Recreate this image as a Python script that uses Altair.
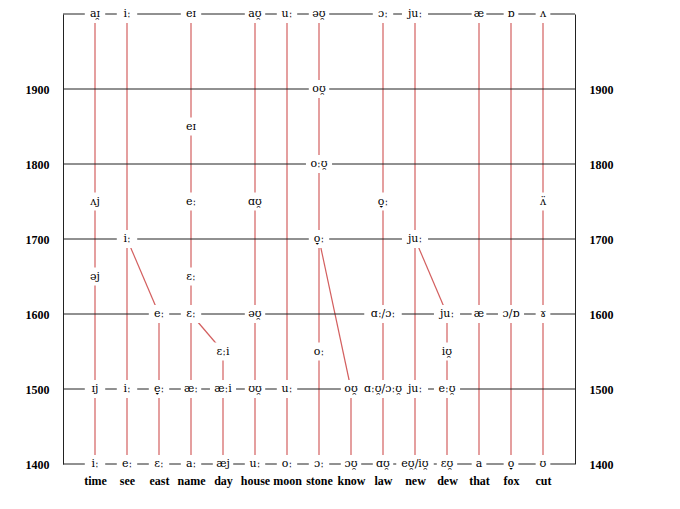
import unicodedata
import altair as alt
import pandas as pd

# words along the bottom, one column each
words = ["time", "see", "east", "name", "day", "house", "moon", "stone",
         "know", "law", "new", "dew", "that", "fox", "cut"]
# year where each column's red line stops (all start at 1400)
col_end = [2000, 2000, 1600, 2000, 1550, 2000, 2000, 2000,
           1500, 2000, 2000, 1600, 2000, 2000, 2000]

# horizontal timeline rows
row_years = [1400, 1500, 1600, 1700, 1800, 1900, 2000]
axis_years = [1400, 1500, 1600, 1700, 1800, 1900]

# pronunciations: word, year, IPA
lab_word = (["time", "see", "east", "name", "day", "house", "moon", "stone",
             "know", "law", "new", "dew", "that", "fox", "cut"]
            + ["time", "see", "east", "name", "day", "house", "moon",
               "know", "law", "new", "dew"]
            + ["day", "stone", "dew"]
            + ["east", "name", "house", "law", "dew", "that", "fox", "cut"]
            + ["time", "name"]
            + ["see", "stone", "new"]
            + ["time", "name", "house", "law", "cut"]
            + ["stone", "name", "stone"]
            + ["time", "see", "name", "house", "moon", "stone", "law",
               "new", "that", "fox", "cut"])
lab_year = ([1400] * 15 + [1500] * 11 + [1550] * 3 + [1600] * 8
            + [1650] * 2 + [1700] * 3 + [1750] * 5 + [1800, 1850, 1900]
            + [2000] * 11)
lab_ipa = (["iː", "eː", "ɛː", "aː", "æj", "uː", "oː", "ɔː",
            "ɔʊ̯", "ɑʊ̯", "eʊ̯/iʊ̯", "ɛʊ̯", "a", "o̞", "ʊ"]
           + ["ɪj", "iː", "e̞ː", "æː", "æːi", "ʊʊ̯", "uː",
              "oʊ̯", "ɑːʊ̯/ɔːʊ̯", "juː", "eːʊ̯"]
           + ["ɛːi", "oː", "iʊ̯"]
           + ["eː", "ɛː", "əʊ̯", "ɑː/ɔː", "juː", "æ", "ɔ/ɒ", "ɤ"]
           + ["əj", "ɛː"]
           + ["iː", "o̞ː", "juː"]
           + ["ʌj", "eː", "ɑʊ̯", "o̞ː", "ʌ̈"]
           + ["oːʊ̯", "eɪ", "oʊ̯"]
           + ["aɪ̯", "iː", "eɪ", "aʊ̯", "uː", "əʊ̯", "ɔː",
              "juː", "æ", "ɒ", "ʌ"])

# merging paths: from (word, year) to (word, year)
diag_from_word = ["see", "name", "stone", "new"]
diag_from_year = [1700, 1600, 1700, 1700]
diag_to_word = ["east", "day", "know", "dew"]
diag_to_year = [1600, 1550, 1500, 1600]

RED = "#d35f5f"
pos = {w: i + 1 for i, w in enumerate(words)}

cols = pd.DataFrame({"pos": [pos[w] for w in words],
                     "y0": [1400] * len(words), "y1": col_end})
diags = pd.DataFrame({"x0": [pos[w] for w in diag_from_word], "y0": diag_from_year,
                      "x1": [pos[w] for w in diag_to_word], "y1": diag_to_year})
rows = pd.DataFrame({"year": row_years, "a": 0, "b": 16})


def visible(s):
    return sum(1 for c in s if not unicodedata.combining(c))


labels = pd.DataFrame({"pos": [pos[w] for w in lab_word], "year": lab_year, "ipa": lab_ipa})
half = labels["ipa"].map(lambda s: (visible(s) * 5.7 / 2 + 4.5) / 32)
labels["xa"] = labels["pos"] - half
labels["xb"] = labels["pos"] + half
labels["ya"] = labels["year"] - 12
labels["yb"] = labels["year"] + 12

xs = alt.Scale(domain=[0, 16], nice=False, zero=False)
ys = alt.Scale(domain=[1400, 2000], nice=False, zero=False)

word_expr = "[" + ",".join("'%s'" % w for w in words) + "][datum.value - 1]"
x_axis = alt.Axis(values=list(range(1, 16)), labelExpr=word_expr, domain=False,
                  ticks=False, grid=False, labelFont="Liberation Serif",
                  labelFontWeight="bold", labelFontSize=12, labelColor="black",
                  labelPadding=11, title="")


def year_axis(side):
    return alt.Axis(orient=side, values=axis_years, format="d", grid=False, ticks=False,
                    labelFont="Liberation Serif", labelFontWeight="bold",
                    labelFontSize=12, labelColor="black", labelPadding=14,
                    domainColor="#222", title="")


red = alt.Chart(cols).mark_rule(color=RED, strokeWidth=1.2).encode(
    x=alt.X("pos:Q", scale=xs, axis=x_axis),
    y=alt.Y("y0:Q", scale=ys, axis=None),
    y2="y1:Q",
)

diag = alt.Chart(diags).mark_rule(color=RED, strokeWidth=1.2).encode(
    x=alt.X("x0:Q", scale=xs, axis=None), x2="x1:Q",
    y=alt.Y("y0:Q", scale=ys, axis=None), y2="y1:Q",
)

hlines = alt.Chart(rows).mark_rule(color="#222", strokeWidth=1).encode(
    x=alt.X("a:Q", scale=xs, axis=None), x2="b:Q",
    y=alt.Y("year:Q", scale=ys, axis=year_axis("left")),
)

boxes = alt.Chart(labels).mark_rect(fill="white", strokeWidth=0).encode(
    x=alt.X("xa:Q", scale=xs, axis=None), x2="xb:Q",
    y=alt.Y("ya:Q", scale=ys, axis=None), y2="yb:Q",
)

text = alt.Chart(labels).mark_text(
    font="DejaVu Serif", fontSize=11, color="black", baseline="middle", align="center"
).encode(
    x=alt.X("pos:Q", scale=xs, axis=None),
    y=alt.Y("year:Q", scale=ys, axis=year_axis("right")),
    text="ipa:N",
)

chart = alt.layer(red, diag, hlines, boxes, text).resolve_axis(
    x="independent", y="independent"
).properties(
    width=512, height=450,
    autosize=alt.AutoSizeParams(type="none"),
    padding={"left": 55, "top": 6, "right": 97, "bottom": 37},
).configure_view(strokeWidth=0)

chart.save("out.html", embed_options={"renderer": "svg", "actions": False})
